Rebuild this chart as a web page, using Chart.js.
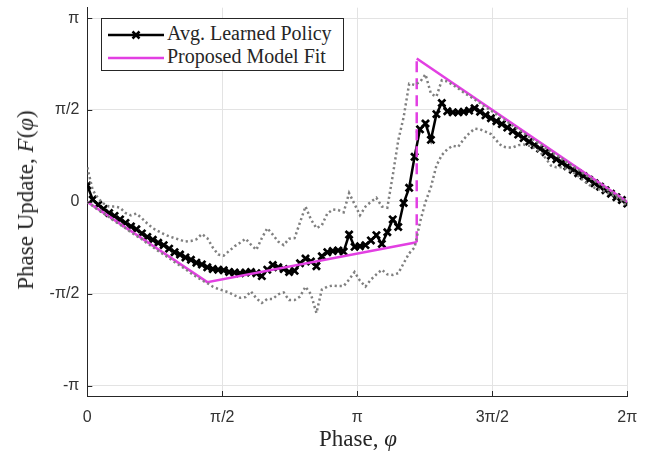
<!DOCTYPE html>
<html>
<head>
<meta charset="utf-8">
<script src="https://cdn.jsdelivr.net/npm/chart.js@4.4.1/dist/chart.umd.min.js"></script>
<style>
  body { margin: 0; background: #fff; }
  #wrap { position: relative; width: 652px; height: 454px; }
  #plot { position: absolute; left: 0; top: 0; }
  .title { position: absolute; font-family: "Liberation Serif", "DejaVu Serif", serif; font-size: 23px; color: #262626; white-space: nowrap; }
  #xTitle { left: 358px; top: 426px; transform: translateX(-50%); }
  #yTitle { left: 26px; top: 200px; transform: translate(-50%, -50%) rotate(-90deg); }
  #legend { position: absolute; left: 101px; top: 18px; width: 241px; height: 51px; border: 1px solid #262626; background: #fff;
            font-family: "Liberation Serif", "DejaVu Serif", serif; font-size: 20px; color: #262626; }
  .row { position: absolute; left: 6px; height: 22px; line-height: 22px; white-space: nowrap; }
  .row svg { vertical-align: middle; margin-right: 3px; }
</style>
</head>
<body>
<div id="wrap">
  <canvas id="plot" width="652" height="454"></canvas>
  <div class="title" id="xTitle">Phase, <i>φ</i></div>
  <div class="title" id="yTitle">Phase Update, <i>F</i>(<i>φ</i>)</div>
  <div id="legend">
    <div class="row" style="top:3px;">
      <svg width="56" height="14"><line x1="0" y1="7" x2="56" y2="7" stroke="#000" stroke-width="2.5"/>
        <path d="M24.5 3.5 L31.5 10.5 M31.5 3.5 L24.5 10.5" stroke="#000" stroke-width="2.5"/></svg>Avg. Learned Policy
    </div>
    <div class="row" style="top:26px;">
      <svg width="56" height="14"><line x1="0" y1="7" x2="56" y2="7" stroke="#e23fe2" stroke-width="2.5"/></svg>Proposed Model Fit
    </div>
  </div>
</div>
<script>
// phase grid (rad)
const phase = [
  0.000, 0.063, 0.127, 0.190, 0.254, 0.317, 0.381, 0.444, 0.508, 0.571,
  0.635, 0.698, 0.762, 0.825, 0.889, 0.952, 1.015, 1.079, 1.142, 1.206,
  1.269, 1.333, 1.396, 1.460, 1.523, 1.587, 1.650, 1.714, 1.777, 1.841,
  1.904, 1.967, 2.031, 2.094, 2.158, 2.221, 2.285, 2.348, 2.412, 2.475,
  2.539, 2.602, 2.666, 2.729, 2.793, 2.856, 2.919, 2.983, 3.046, 3.110,
  3.173, 3.237, 3.300, 3.364, 3.427, 3.491, 3.554, 3.618, 3.681, 3.745,
  3.808, 3.871, 3.935, 3.998, 4.062, 4.125, 4.189, 4.252, 4.316, 4.379,
  4.443, 4.506, 4.570, 4.633, 4.697, 4.760, 4.823, 4.887, 4.950, 5.014,
  5.077, 5.141, 5.204, 5.268, 5.331, 5.395, 5.458, 5.522, 5.585, 5.649,
  5.712, 5.775, 5.839, 5.902, 5.966, 6.029, 6.093, 6.156, 6.220, 6.283
];

const policyAvg = [
  0.28, 0.04, -0.05, -0.12, -0.19, -0.24, -0.30, -0.36, -0.42, -0.47,
  -0.54, -0.60, -0.65, -0.70, -0.74, -0.80, -0.86, -0.90, -0.95, -0.99,
  -1.04, -1.07, -1.12, -1.15, -1.16, -1.17, -1.20, -1.21, -1.22, -1.21,
  -1.20, -1.22, -1.27, -1.16, -1.08, -1.12, -1.15, -1.20, -1.18, -1.05,
  -0.97, -1.02, -1.10, -0.93, -0.86, -0.84, -0.83, -0.85, -0.56, -0.77,
  -0.76, -0.74, -0.66, -0.57, -0.72, -0.52, -0.30, -0.43, -0.02, 0.24,
  0.77, 1.24, 1.34, 1.06, 1.50, 1.69, 1.55, 1.53, 1.53, 1.54,
  1.56, 1.60, 1.54, 1.48, 1.43, 1.38, 1.33, 1.27, 1.21, 1.15,
  1.09, 1.03, 0.97, 0.91, 0.85, 0.79, 0.73, 0.67, 0.61, 0.55,
  0.49, 0.44, 0.38, 0.32, 0.26, 0.20, 0.14, 0.08, 0.03, -0.03
];

const policyUpper = [
  0.59, 0.20, 0.06, -0.03, -0.08, -0.08, -0.10, -0.19, -0.23, -0.20,
  -0.28, -0.37, -0.45, -0.50, -0.55, -0.59, -0.62, -0.65, -0.68, -0.67,
  -0.64, -0.55, -0.62, -0.78, -0.90, -0.92, -0.84, -0.76, -0.70, -0.63,
  -0.73, -0.82, -0.62, -0.45, -0.56, -0.68, -0.74, -0.63, -0.62, -0.35,
  -0.08, -0.30, -0.45, -0.40, -0.20, -0.13, -0.14, -0.18, 0.15, -0.04,
  -0.23, -0.08, 0.00, 0.07, -0.08, -0.10, 0.45, 1.05, 1.45, 2.02,
  2.00, 2.05, 2.18, 1.85, 1.80, 2.08, 2.06, 2.00, 1.94, 1.87,
  1.81, 1.75, 1.69, 1.62, 1.56, 1.50, 1.43, 1.37, 1.30, 1.24,
  1.18, 1.11, 1.05, 0.99, 0.92, 0.86, 0.80, 0.74, 0.67, 0.61,
  0.55, 0.48, 0.42, 0.36, 0.30, 0.23, 0.17, 0.11, 0.05, 0.00
];

const policyLower = [
  0.00, -0.07, -0.14, -0.20, -0.26, -0.33, -0.39, -0.45, -0.52, -0.58,
  -0.64, -0.71, -0.77, -0.84, -0.90, -0.96, -1.03, -1.09, -1.15, -1.22,
  -1.28, -1.34, -1.39, -1.45, -1.49, -1.52, -1.55, -1.60, -1.64, -1.63,
  -1.53, -1.65, -1.73, -1.66, -1.66, -1.58, -1.55, -1.68, -1.68, -1.62,
  -1.45, -1.58, -1.90, -1.50, -1.45, -1.43, -1.44, -1.44, -1.33, -1.20,
  -1.35, -1.45, -1.33, -1.24, -1.16, -1.24, -1.25, -1.22, -1.05, -0.88,
  -0.78, -0.35, 0.00, 0.25, 0.62, 0.80, 0.90, 0.96, 0.94, 1.07,
  1.17, 1.25, 1.24, 1.20, 1.16, 1.05, 0.95, 0.93, 0.93, 0.97,
  0.98, 0.96, 0.92, 0.85, 0.75, 0.62, 0.59, 0.59, 0.56, 0.51,
  0.44, 0.36, 0.29, 0.24, 0.21, 0.17, 0.13, 0.08, 0.02, -0.08
];

// piecewise model fit (break points)
const fitPhase = [0, 1.396, 3.833, 3.833, 6.283];
const fitUpdate = [0, -1.373, -0.69, 2.45, 0];

const xTickValues = [0, Math.PI / 2, Math.PI, 3 * Math.PI / 2, 2 * Math.PI];
const xTickLabels = ['0', 'π/2', 'π', '3π/2', '2π'];
const yTickValues = [-Math.PI, -Math.PI / 2, 0, Math.PI / 2, Math.PI];
const yTickLabels = ['-π', '-π/2', '0', 'π/2', 'π'];

const toPoints = (xs, ys) => xs.map((x, i) => ({ x: x, y: ys[i] }));

const axisColor = '#262626';
const gridColor = '#e3e3e3';

// MATLAB style inward ticks
const innerTicks = {
  id: 'innerTicks',
  afterDraw(chart) {
    const ctx = chart.ctx;
    const area = chart.chartArea;
    const xs = chart.scales.x;
    const ys = chart.scales.y;
    ctx.save();
    ctx.strokeStyle = axisColor;
    ctx.lineWidth = 1;
    ctx.beginPath();
    xTickValues.forEach(v => {
      const px = Math.round(xs.getPixelForValue(v)) + 0.5;
      ctx.moveTo(px, area.bottom);
      ctx.lineTo(px, area.bottom - 5);
    });
    yTickValues.forEach(v => {
      const py = Math.round(ys.getPixelForValue(v)) + 0.5;
      ctx.moveTo(area.left, py);
      ctx.lineTo(area.left + 5, py);
    });
    ctx.stroke();
    ctx.restore();
  }
};

new Chart(document.getElementById('plot'), {
  type: 'line',
  data: {
    datasets: [
      {
        label: 'Upper',
        data: toPoints(phase, policyUpper),
        borderColor: '#808080',
        borderWidth: 2.5,
        borderDash: [2.2, 2.8],
        pointRadius: 0,
        order: 1
      },
      {
        label: 'Lower',
        data: toPoints(phase, policyLower),
        borderColor: '#808080',
        borderWidth: 2.5,
        borderDash: [2.2, 2.8],
        pointRadius: 0,
        order: 1
      },
      {
        label: 'Proposed Model Fit',
        data: toPoints(fitPhase, fitUpdate),
        borderColor: '#e23fe2',
        borderWidth: 2.5,
        pointRadius: 0,
        segment: {
          borderDash: c => c.p0.parsed.x === c.p1.parsed.x ? [11, 6] : undefined
        },
        order: 2
      },
      {
        label: 'Avg. Learned Policy',
        data: toPoints(phase, policyAvg),
        borderColor: '#000',
        borderWidth: 2.5,
        pointStyle: 'crossRot',
        pointRadius: 5,
        pointBorderWidth: 2.7,
        pointBorderColor: '#000',
        order: 3
      }
    ]
  },
  options: {
    responsive: false,
    animation: false,
    devicePixelRatio: 1,
    layout: { padding: { left: 0, right: 24.7, top: 3.5, bottom: 0 } },
    plugins: { legend: { display: false }, tooltip: { enabled: false } },
    scales: {
      x: {
        type: 'linear',
        min: 0,
        max: 2 * Math.PI,
        afterFit: s => { s.height = 58; s.paddingLeft = 0; s.paddingRight = 0; },
        afterBuildTicks: s => { s.ticks = xTickValues.map(v => ({ value: v })); },
        ticks: {
          callback: (v, i) => xTickLabels[i],
          font: { family: 'Liberation Sans', size: 16 },
          color: '#333',
          padding: 12,
          maxRotation: 0,
          autoSkip: false
        },
        grid: { color: gridColor, drawTicks: false },
        border: { display: true, color: axisColor, width: 1 }
      },
      y: {
        type: 'linear',
        min: -3.32,
        max: 3.32,
        afterFit: s => { s.width = 87.3; s.paddingTop = 0; s.paddingBottom = 0; },
        afterBuildTicks: s => { s.ticks = yTickValues.map(v => ({ value: v })); },
        ticks: {
          callback: (v, i) => yTickLabels[i],
          font: { family: 'Liberation Sans', size: 16 },
          color: '#333',
          padding: 8,
          autoSkip: false
        },
        grid: { color: gridColor, drawTicks: false },
        border: { display: true, color: axisColor, width: 1 }
      }
    }
  },
  plugins: [innerTicks]
});
</script>
</body>
</html>
